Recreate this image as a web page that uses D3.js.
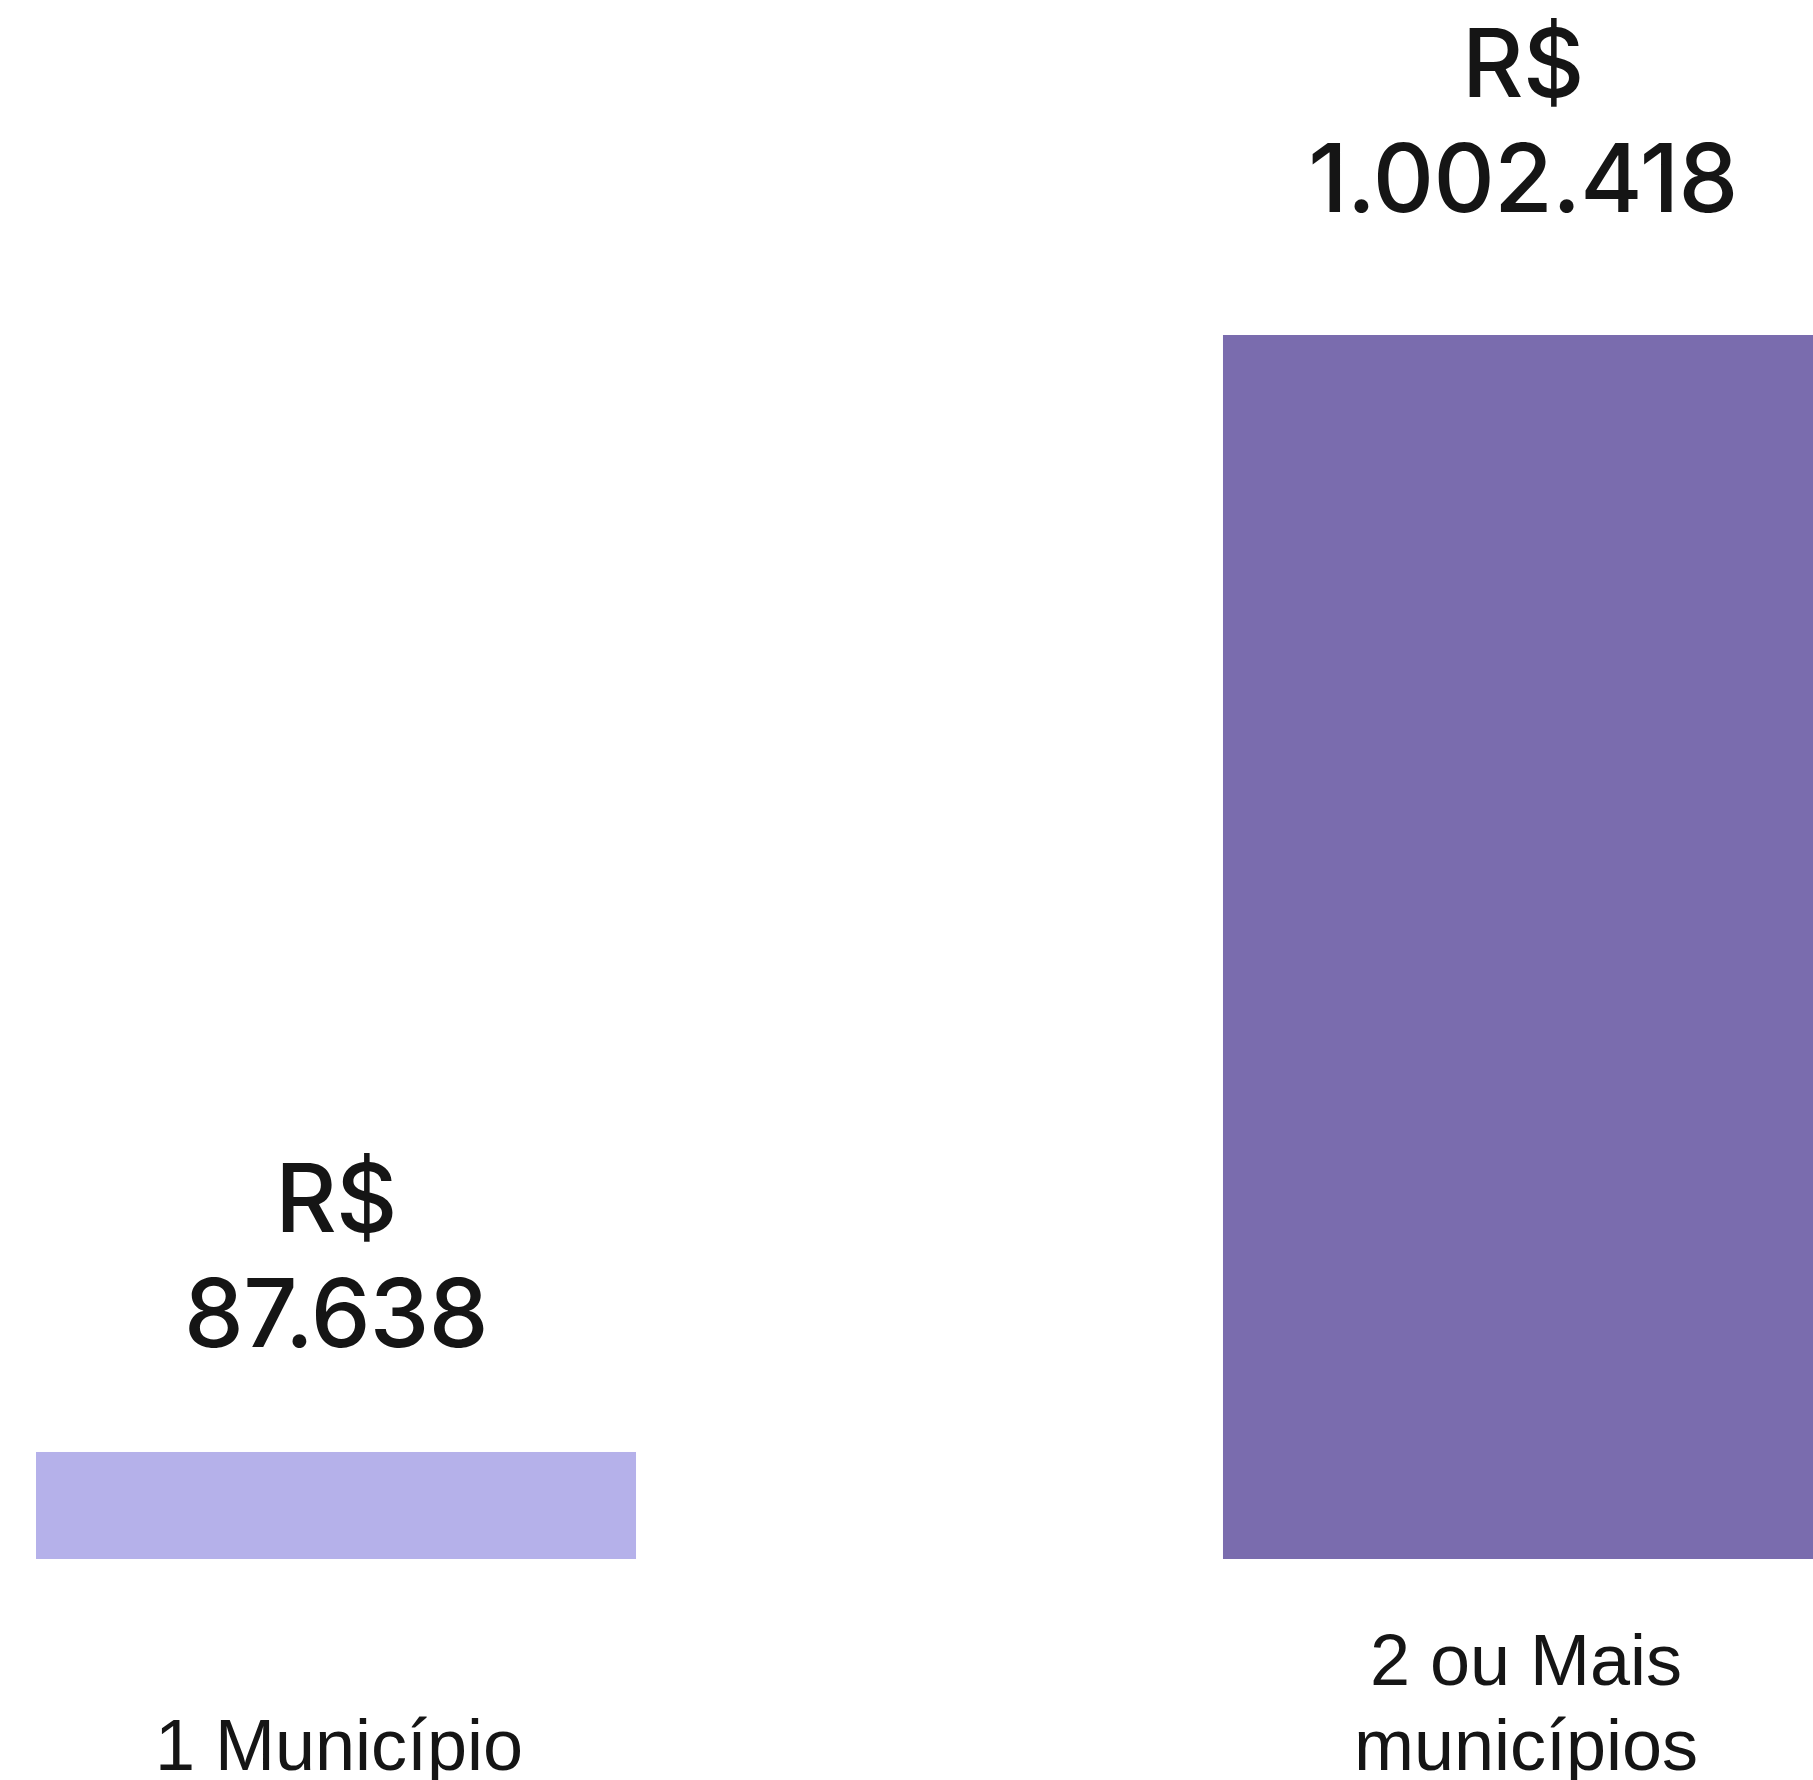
<!DOCTYPE html>
<html><head><meta charset="utf-8">
<script src="https://cdn.jsdelivr.net/npm/d3@7"></script>
<style>html,body{margin:0;padding:0;background:#fff;overflow:hidden}</style>
</head><body>
<svg id="c" width="1813" height="1780"></svg>
<script>
const categories = ["1 Município", "2 ou Mais municípios"];
const categoryLines = [["1 Município"], ["2 ou Mais", "municípios"]];
const values = [87638, 1002418];
const valueLabels = ["87.638", "1.002.418"];
const currency = "R$";
const colors = ["#b5b1ea", "#7a6cae"];

const W = 1813, H = 1780;
const svg = d3.select("#c");
const x = d3.scaleBand().domain(categories).range([36, 1823]).paddingInner(0.4945).paddingOuter(0);
const y = d3.scaleLinear().domain([0, 1002418]).range([1559, 335]);
const labelGap = [105, 123];

svg.selectAll("rect.bar").data(values).join("rect")
  .attr("class","bar")
  .attr("x",(d,i)=>x(categories[i]))
  .attr("width",x.bandwidth())
  .attr("y",d=>y(d))
  .attr("height",d=>y(0)-y(d))
  .attr("fill",(d,i)=>colors[i]);

const vg = svg.selectAll("g.val").data(values).join("g").attr("class","val");
vg.append("text")
  .attr("x",(d,i)=>x(categories[i])+x.bandwidth()/2)
  .attr("y",(d,i)=>y(d)-labelGap[i]-115)
  .text(currency);
vg.append("text")
  .attr("x",(d,i)=>x(categories[i])+x.bandwidth()/2)
  .attr("y",(d,i)=>y(d)-labelGap[i])
  .text((d,i)=>valueLabels[i]);
vg.selectAll("text")
  .attr("text-anchor","middle")
  .attr("font-family","Inter, 'Liberation Sans', sans-serif")
  .attr("font-weight",500)
  .attr("font-size",95)
  .attr("letter-spacing","-0.6px")
  .attr("fill","#151515");

const cg = svg.selectAll("g.cat").data(categoryLines).join("g").attr("class","cat");
cg.each(function(lines,i){
  const g = d3.select(this);
  const n = lines.length;
  lines.forEach((t,j)=>{
    g.append("text")
      .attr("x", x(categories[i])+x.bandwidth()/2 + 3)
      .attr("y", 1770 - (n-1-j)*85)
      .attr("text-anchor","middle")
      .attr("font-family","'Liberation Sans', Arial, sans-serif")
      .attr("font-size",72)
      .attr("fill","#151515")
      .text(t);
  });
});
</script>
</body></html>
